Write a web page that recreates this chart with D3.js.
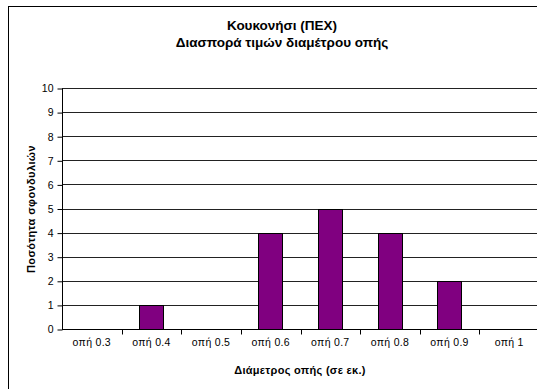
<!DOCTYPE html>
<html><head><meta charset="utf-8">
<script src="https://cdn.jsdelivr.net/npm/d3@7"></script>
<style>body{margin:0;background:#fff}svg{display:block}text{font-family:"Liberation Sans",Arial,sans-serif;fill:#000}</style>
</head><body><svg id="c" width="537" height="389"></svg>
<script>
const categories = ["οπή 0.3","οπή 0.4","οπή 0.5","οπή 0.6","οπή 0.7","οπή 0.8","οπή 0.9","οπή 1"];
const values = [0,1,0,4,5,4,2,0];
const yTicks = [0,1,2,3,4,5,6,7,8,9,10];
const titleLines = ["Κουκονήσι (ΠΕΧ)","Διασπορά τιμών διαμέτρου οπής"];
const xTitle = "Διάμετρος οπής (σε εκ.)";
const yTitle = "Ποσότητα σφονδυλιών";

const svg = d3.select("#c");
const L = 62, R = 539, T = 88, B = 329;
svg.append("rect").attr("x",8.5).attr("y",6.5).attr("width",700).attr("height",700)
  .attr("fill","#fff").attr("stroke","#000").attr("stroke-width",1);

const x = d3.scaleBand().domain(categories).range([L,R]).paddingInner(0).paddingOuter(0);
const y = d3.scaleLinear().domain([0,10]).range([B,T]);

// gridlines
svg.append("g").selectAll("line").data(yTicks.filter(d=>d>0)).join("line")
  .attr("x1",L).attr("x2",R).attr("y1",d=>Math.round(y(d))+0.5).attr("y2",d=>Math.round(y(d))+0.5)
  .attr("stroke","#222").attr("stroke-width",1);

// bars
const bw = x.bandwidth()*0.41;
svg.append("g").selectAll("rect").data(values.map((v,i)=>({c:categories[i],v}))).join("rect")
  .filter(d=>d.v>0)
  .attr("x",d=>Math.round(x(d.c)+x.bandwidth()/2-bw/2)+0.5)
  .attr("y",d=>Math.round(y(d.v))+0.5)
  .attr("width",Math.round(bw))
  .attr("height",d=>Math.round(y(0))-Math.round(y(d.v)))
  .attr("fill","#800080").attr("stroke","#000").attr("stroke-width",1);

// y axis
const ya = d3.axisLeft(y).tickValues(yTicks).tickSize(5).tickPadding(4).tickFormat(d3.format("d"));
const gy = svg.append("g").attr("transform",`translate(${L+0.5},0.5)`).call(ya);
gy.select(".domain").attr("stroke","#000").attr("d",`M0,${T}V${B}`);
gy.selectAll(".tick line").attr("stroke","#000");
gy.selectAll("text").attr("font-size","10.5px").attr("font-family","Liberation Sans, Arial, sans-serif").attr("fill","#000");

// x axis
const gx = svg.append("g").attr("transform",`translate(0,${B+0.5})`);
gx.append("line").attr("x1",L).attr("x2",R).attr("y1",0).attr("y2",0).attr("stroke","#000");
const bounds = categories.map(c=>x(c)+x.bandwidth()).slice(0,-1);
gx.selectAll("line.t").data(bounds).join("line").attr("class","t")
  .attr("x1",d=>Math.round(d)+0.5).attr("x2",d=>Math.round(d)+0.5).attr("y1",0).attr("y2",5).attr("stroke","#000");
gx.selectAll("text").data(categories).join("text")
  .attr("x",d=>x(d)+x.bandwidth()/2).attr("y",16).attr("text-anchor","middle")
  .attr("font-size","10.5px").attr("letter-spacing","0.3px").text(d=>d);

// titles
svg.append("text").attr("text-anchor","middle").attr("font-weight","bold").attr("font-size","13.5px")
  .selectAll("tspan").data(titleLines).join("tspan").attr("x",282).attr("y",(d,i)=>30+i*17).text(d=>d);
svg.append("text").attr("x",300).attr("y",374).attr("text-anchor","middle").attr("font-weight","bold").attr("font-size","11px").attr("letter-spacing","0.3px").text(xTitle);
svg.append("text").attr("transform",`translate(35,209) rotate(-90)`).attr("text-anchor","middle").attr("font-weight","bold").attr("font-size","11px").attr("letter-spacing","0.4px").text(yTitle);
</script></body></html>
